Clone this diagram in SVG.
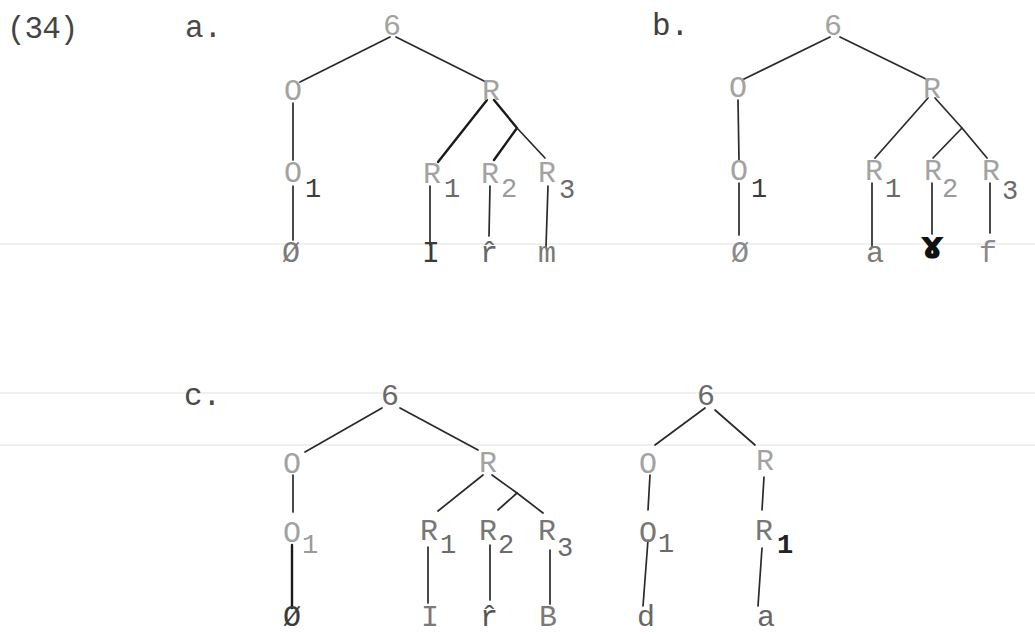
<svg xmlns="http://www.w3.org/2000/svg" width="1035" height="636" viewBox="0 0 1035 636">
  <style>
    text { font-family: "Liberation Mono", "Courier New", monospace; }
    .lbl { font-size: 30px; text-anchor: middle; fill: #a2a2a2; }
    .sub { font-size: 27px; text-anchor: middle; fill: #6a6a6a; }
    .sub-d { font-size: 27px; text-anchor: middle; fill: #3c3c3c; }
    .term { font-size: 30px; text-anchor: middle; fill: #7a7a7a; }
    .term-d { font-size: 30px; text-anchor: middle; fill: #3a3a3a; }
    .tag { font-size: 31px; fill: #4a4a4a; }
    .edge { stroke: #2a2a2a; stroke-width: 1.7; fill: none; stroke-linecap: round; stroke-linejoin: round; }
    .edge-b { stroke: #1a1a1a; stroke-width: 2.4; fill: none; stroke-linecap: round; stroke-linejoin: round; }
    .rule { stroke: #ebebeb; stroke-width: 1.5; }
  </style>

  <rect width="1035" height="636" fill="#ffffff"/>

  <!-- faint ruled lines across the sheet -->
  <g id="rules">
    <line class="rule" x1="0" y1="244" x2="1035" y2="244"/>
    <line class="rule" x1="0" y1="393" x2="1035" y2="393"/>
    <line class="rule" x1="0" y1="445" x2="1035" y2="445"/>
  </g>

  <!-- example number and sub-labels -->
  <g id="labels">
    <text class="tag" x="7" y="38" font-size="32" letter-spacing="-1" style="fill:#444">(34)</text>
    <text class="tag" x="185" y="37">a.</text>
    <text class="tag" x="652" y="35" style="fill:#404040">b.</text>
    <text class="tag" x="184" y="405">c.</text>
  </g>

  <!-- connectors -->
  <g id="connectors">
    <!-- tree a -->
    <line class="edge" x1="390" y1="37" x2="300" y2="82"/>
    <line class="edge" x1="396" y1="37" x2="486" y2="82"/>
    <line class="edge" x1="293" y1="103" x2="293" y2="160"/>
    <line class="edge" x1="293" y1="186" x2="293" y2="240"/>
    <line class="edge-b" x1="487" y1="100" x2="438" y2="162"/>
    <polyline class="edge-b" points="494,100 517,128 494,160"/>
    <line class="edge" x1="517" y1="128" x2="545" y2="158"/>
    <line class="edge" x1="430" y1="186" x2="430" y2="245"/>
    <line class="edge" x1="490" y1="186" x2="489" y2="236"/>
    <line class="edge" x1="548" y1="186" x2="546" y2="247"/>
    <!-- tree b -->
    <line class="edge" x1="830" y1="37" x2="742" y2="80"/>
    <line class="edge" x1="840" y1="37" x2="928" y2="80"/>
    <line class="edge" x1="738" y1="100" x2="739" y2="160"/>
    <line class="edge" x1="739" y1="183" x2="739" y2="235"/>
    <line class="edge" x1="928" y1="98" x2="875" y2="158"/>
    <polyline class="edge" points="935,98 962,128 987,158"/>
    <line class="edge" x1="962" y1="128" x2="933" y2="158"/>
    <line class="edge" x1="872" y1="183" x2="872" y2="247"/>
    <line class="edge" x1="932" y1="183" x2="932" y2="234"/>
    <line class="edge" x1="990" y1="183" x2="990" y2="233"/>
    <!-- tree c -->
    <line class="edge" x1="382" y1="408" x2="305" y2="452"/>
    <line class="edge" x1="400" y1="408" x2="478" y2="450"/>
    <line class="edge" x1="293" y1="475" x2="293" y2="512"/>
    <line class="edge-b" x1="292" y1="545" x2="292" y2="608"/>
    <line class="edge" x1="483" y1="475" x2="438" y2="511"/>
    <polyline class="edge" points="492,475 517,493 543,513"/>
    <line class="edge" x1="517" y1="493" x2="498" y2="510"/>
    <line class="edge" x1="428" y1="547" x2="428" y2="603"/>
    <line class="edge" x1="490" y1="545" x2="490" y2="600"/>
    <line class="edge" x1="550" y1="550" x2="550" y2="604"/>
    <!-- tree d -->
    <line class="edge" x1="705" y1="408" x2="655" y2="445"/>
    <line class="edge" x1="715" y1="410" x2="755" y2="445"/>
    <line class="edge" x1="650" y1="475" x2="648" y2="510"/>
    <line class="edge" x1="648" y1="540" x2="643" y2="606"/>
    <line class="edge" x1="764" y1="477" x2="762" y2="510"/>
    <line class="edge" x1="762" y1="548" x2="758" y2="606"/>
  </g>

  <!-- tree a -->
  <g id="a-root"><text class="lbl" x="392" y="35">6</text></g>
  <g id="a-O"><text class="lbl" x="293" y="100">O</text></g>
  <g id="a-R"><text class="lbl" x="491" y="100">R</text></g>
  <g id="a-O1"><text class="lbl" x="293" y="182">O</text><text class="sub-d" x="313" y="197">1</text></g>
  <g id="a-R1"><text class="lbl" x="432" y="183">R</text><text class="sub" x="452" y="197">1</text></g>
  <g id="a-R2"><text class="lbl" x="490" y="183">R</text><text class="sub" x="509" y="197" style="fill:#9a9a9a">2</text></g>
  <g id="a-R3"><text class="lbl" x="547" y="182">R</text><text class="sub" x="567" y="198">3</text></g>
  <g id="a-t1"><text class="term" x="291" y="262">Ø</text></g>
  <g id="a-t2"><text class="term-d" x="431" y="262">I</text></g>
  <g id="a-t3"><text class="term" x="489" y="262" style="fill:#666">r̂</text></g>
  <g id="a-t4"><text class="term" x="547" y="262">m</text></g>

  <!-- tree b -->
  <g id="b-root"><text class="lbl" x="833" y="35">6</text></g>
  <g id="b-O"><text class="lbl" x="738" y="97">O</text></g>
  <g id="b-R"><text class="lbl" x="932" y="98">R</text></g>
  <g id="b-O1"><text class="lbl" x="739" y="180">O</text><text class="sub-d" x="759" y="197">1</text></g>
  <g id="b-R1"><text class="lbl" x="874" y="180">R</text><text class="sub" x="893" y="197">1</text></g>
  <g id="b-R2"><text class="lbl" x="933" y="180">R</text><text class="sub" x="950" y="197" style="fill:#9a9a9a">2</text></g>
  <g id="b-R3"><text class="lbl" x="991" y="180">R</text><text class="sub" x="1010" y="199">3</text></g>
  <g id="b-t1"><text class="term" x="740" y="262" style="fill:#8a8a8a">Ø</text></g>
  <g id="b-t2"><text class="term" x="875" y="262">a</text></g>
  <g id="b-t3"><text x="932" y="258" text-anchor="middle" font-size="38" font-weight="bold" style="font-family:'DejaVu Sans', sans-serif; fill:#111">ɤ</text></g>
  <g id="b-t4"><text class="term" x="988" y="262" style="fill:#8a8a8a">f</text></g>

  <!-- tree c -->
  <g id="c-root"><text class="lbl" x="390" y="405" style="fill:#6a6a6a">6</text></g>
  <g id="c-O"><text class="lbl" x="292" y="473">O</text></g>
  <g id="c-R"><text class="lbl" x="488" y="472">R</text></g>
  <g id="c-O1"><text class="lbl" x="292" y="542">O</text><text class="sub" x="310" y="553" style="fill:#9a9a9a">1</text></g>
  <g id="c-R1"><text class="lbl" x="429" y="540" style="fill:#777">R</text><text class="sub" x="448" y="553">1</text></g>
  <g id="c-R2"><text class="lbl" x="488" y="540" style="fill:#777">R</text><text class="sub" x="506" y="553">2</text></g>
  <g id="c-R3"><text class="lbl" x="547" y="540" style="fill:#777">R</text><text class="sub" x="565" y="556">3</text></g>
  <g id="c-t1"><text class="term-d" x="292" y="626">Ø</text></g>
  <g id="c-t2"><text class="term" x="430" y="626">I</text></g>
  <g id="c-t3"><text class="term" x="489" y="626" style="fill:#555">r̂</text></g>
  <g id="c-t4"><text class="term" x="548" y="626">B</text></g>

  <!-- tree d -->
  <g id="d-root"><text class="lbl" x="706" y="405" style="fill:#6a6a6a">6</text></g>
  <g id="d-O"><text class="lbl" x="648" y="473">O</text></g>
  <g id="d-R"><text class="lbl" x="765" y="470">R</text></g>
  <g id="d-O1"><text class="lbl" x="648" y="542" style="fill:#777">O</text><text class="sub" x="666" y="552">1</text></g>
  <g id="d-R1"><text class="lbl" x="764" y="540" style="fill:#777">R</text><text class="sub-d" x="785" y="553" font-weight="bold" style="fill:#222">1</text></g>
  <g id="d-t1"><text class="term" x="646" y="626" style="fill:#666">d</text></g>
  <g id="d-t2"><text class="term" x="766" y="626" style="fill:#666">a</text></g>
</svg>
